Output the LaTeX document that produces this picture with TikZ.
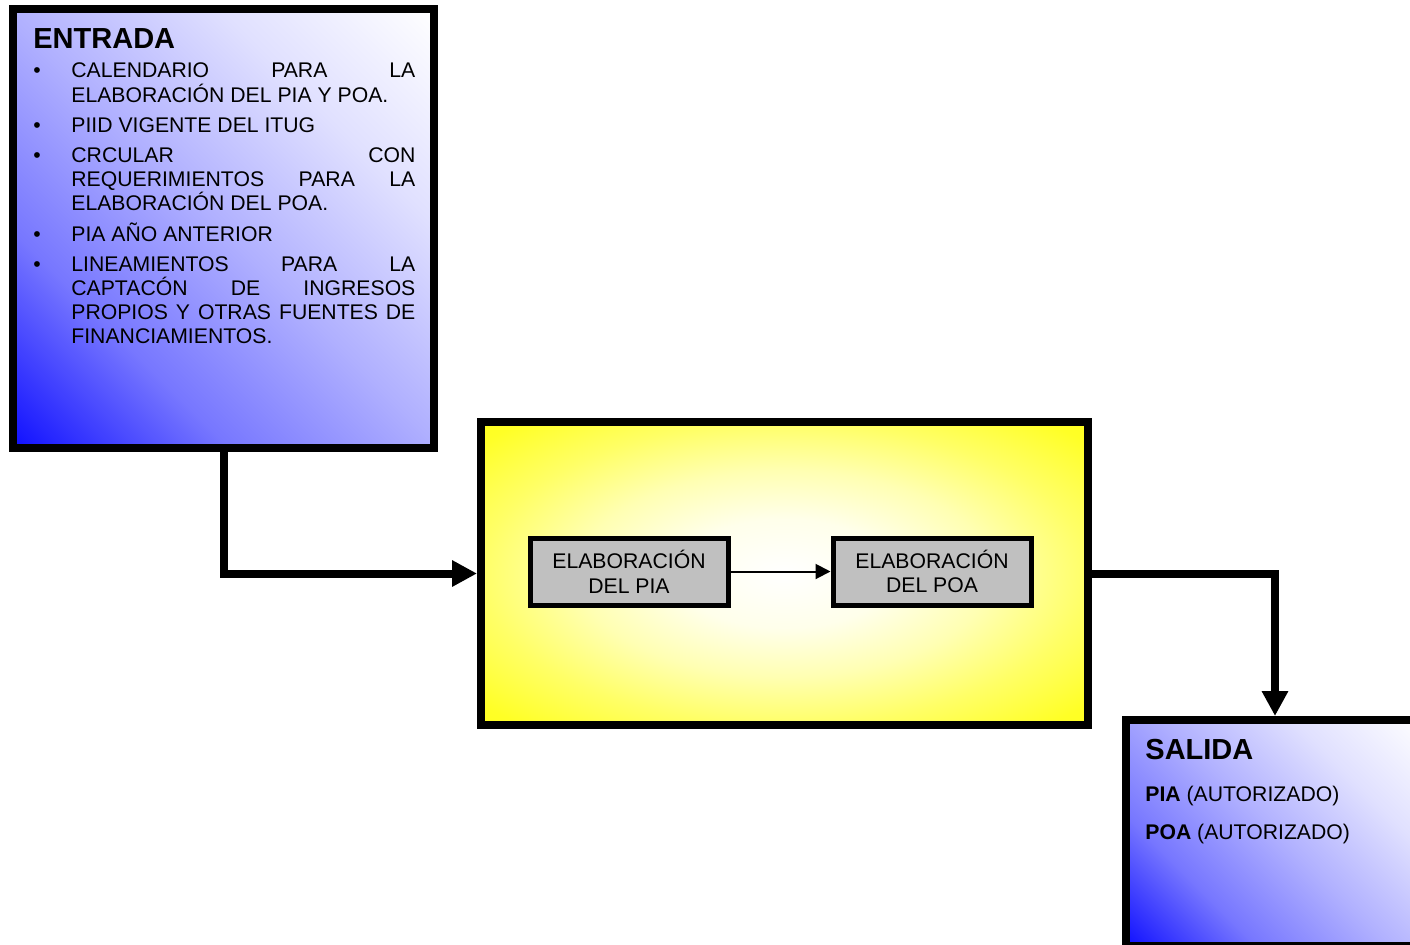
\documentclass[tikz,border=0pt]{standalone}
\usepackage{fontspec}
\setmainfont{Liberation Sans}
\usetikzlibrary{arrows.meta}

\definecolor{entradablue}{RGB}{16,16,255}
\definecolor{procyellow}{RGB}{255,255,0}
\definecolor{stepgray}{RGB}{192,192,192}

% diagonal fade for the input/output boxes, radial glow for the process box
\pgfdeclareverticalshading{io-fade}{100bp}{color(0bp)=(white); color(14.6bp)=(white);
  color(32.3bp)=(entradablue!13); color(50bp)=(entradablue!33);
  color(67.7bp)=(entradablue!57); color(85.4bp)=(entradablue); color(100bp)=(entradablue)}
\pgfdeclareradialshading{proc-glow}{\pgfpoint{0bp}{0bp}}{color(0bp)=(white);
  color(9bp)=(procyellow!8); color(17bp)=(procyellow!30); color(25bp)=(procyellow!60);
  color(33bp)=(procyellow!85); color(42bp)=(procyellow!95); color(50bp)=(procyellow)}

\newenvironment{entradalist}{%
  \begin{list}{\textbullet}{%
    \setlength{\leftmargin}{19pt}\setlength{\labelwidth}{19pt}%
    \setlength{\labelsep}{0pt}\setlength{\topsep}{2.8pt}%
    \setlength{\partopsep}{0pt}\setlength{\itemsep}{3pt}%
    \setlength{\parsep}{0pt}\renewcommand{\makelabel}[1]{##1\hfil}}}%
  {\end{list}}

\tikzset{
  io-box/.style={draw, line width=4pt, inner sep=0pt, shade, shading=io-fade, shading angle=135},
  proc-box/.style={draw, line width=4pt, inner sep=0pt, shade, shading=proc-glow},
  step-box/.style={draw, line width=2.5pt, fill=stepgray, inner sep=0pt, minimum width=99pt, minimum height=33.5pt, align=center, font=\fontsize{10.6}{12.4}\selectfont},
  io-title/.style={font=\bfseries\fontsize{14.5}{16}\selectfont, inner sep=0pt, anchor=base west},
  io-text/.style={font=\fontsize{10.6}{12.1}\selectfont, inner sep=0pt, anchor=base west},
  flow/.style={line width=4pt, -{Triangle[length=12.5pt,width=12.5pt]}},
  step-flow/.style={line width=1pt, -{Triangle[length=7.5pt,width=7.5pt]}}
}

\begin{document}
\begin{tikzpicture}[x=0.5pt,y=-0.5pt]
\clip (0,0) rectangle (1410,944);
\fill[white] (0,0) rectangle (1410,944);

\path (223.5,228.5) node[io-box, minimum width=210.5pt, minimum height=219.5pt] (entrada) {};
\path (784.5,573.5) node[proc-box, minimum width=303.5pt, minimum height=151.5pt] (proceso) {};
\path (1275,833) node[io-box, minimum width=149pt, minimum height=113pt] (salida) {};

\path (33,48) node[io-text, text width=191pt, align=justify] (entrada-text) {%
\hyphenpenalty=10000 \tolerance=10000
{\bfseries\fontsize{14.5}{16}\selectfont ENTRADA\par}
\begin{entradalist}
\item CALENDARIO PARA LA\linebreak ELABORACIÓN DEL PIA Y POA.
\item PIID VIGENTE DEL ITUG
\item CRCULAR CON\linebreak REQUERIMIENTOS PARA LA\linebreak ELABORACIÓN DEL POA.
\item PIA AÑO ANTERIOR
\item LINEAMIENTOS PARA LA\linebreak CAPTACÓN DE INGRESOS\linebreak PROPIOS Y OTRAS FUENTES DE\linebreak FINANCIAMIENTOS.
\end{entradalist}};

\path (629,571.5) node[step-box] (elab-pia) {ELABORACIÓN\\DEL PIA};
\path (932,571.5) node[step-box] (elab-poa) {ELABORACIÓN\\DEL POA};

\path (1145,759) node[io-title] (salida-title) {SALIDA};
\path (1145,801) node[io-text] (salida-pia) {\textbf{PIA} (AUTORIZADO)};
\path (1145,839) node[io-text] (salida-poa) {\textbf{POA} (AUTORIZADO)};

\draw[flow] (entrada.south) |- (proceso.west);
\draw[flow] (proceso.east) -| (salida.north);
\draw[step-flow] (elab-pia) -- (elab-poa);

\end{tikzpicture}
\end{document}
